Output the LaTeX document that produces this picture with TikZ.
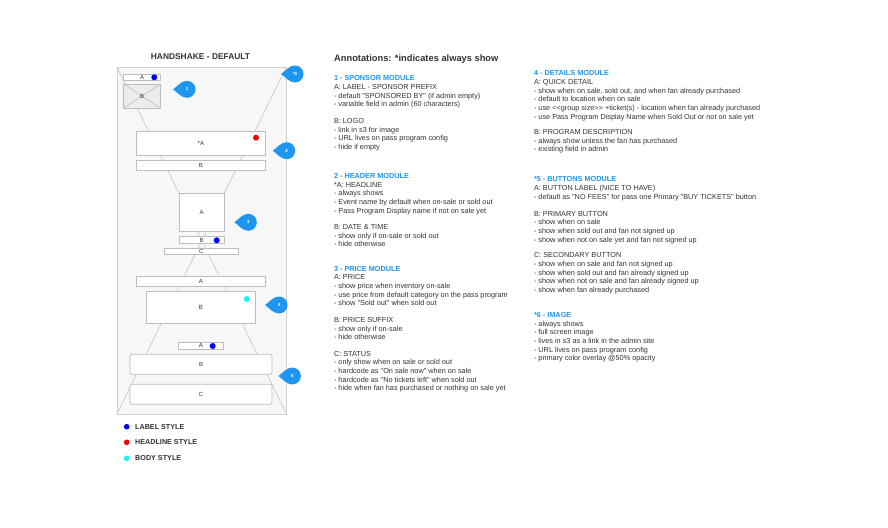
\documentclass[tikz,border=0pt]{standalone}
\usepackage{fontspec}
\newfontfamily\af{Liberation Sans}
\setmainfont{Liberation Sans}
\usetikzlibrary{calc}
\definecolor{panelfill}{HTML}{F7F7F7}
\definecolor{panelline}{HTML}{D2D2D2}
\definecolor{boxgray}{HTML}{BDBDBD}
\definecolor{linegray}{HTML}{C4C4C4}
\definecolor{logofill}{HTML}{ECECEC}
\definecolor{txtgray}{HTML}{333333}
\definecolor{hdblue}{HTML}{1E96F0}
\definecolor{cblue}{HTML}{1E96F0}
\definecolor{dotblue}{HTML}{0000F0}
\definecolor{dotred}{HTML}{F00000}
\definecolor{dotcyan}{HTML}{20F0F0}
\tikzset{
  panelbox/.style={draw=panelline, fill=panelfill, line width=0.8pt, inner sep=0pt, outer sep=0pt},
  wbox/.style={draw=boxgray, fill=white, line width=0.8pt, inner sep=0pt, outer sep=0pt, text=txtgray, font=\af\fontsize{6}{6}\selectfont},
  rbox/.style={wbox, rounded corners=2pt},
  logobox/.style={wbox, fill=logofill},
  persp/.style={draw=linegray, line width=0.6pt},
  dot/.style={circle, inner sep=0pt, minimum size=6pt},
  ldot/.style={circle, inner sep=0pt, minimum size=5.6pt},
  cnum/.style={inner sep=0pt, text=white, font=\af\bfseries\fontsize{4.5}{4.5}\selectfont},
  ann/.style={anchor=base west, align=left, inner sep=0pt, outer sep=0pt, text=txtgray, font=\af\fontsize{7.3}{8.65}\selectfont},
  legtxt/.style={anchor=west, inner sep=0pt, text=txtgray, font=\af\bfseries\fontsize{7.2}{8}\selectfont},
}
\newcommand\hd[1]{{\color{hdblue}\bfseries #1}}
\newcommand\callout[4]{%
  \fill[cblue, shift={(#2,#3)}] (-14,0) .. controls (-10,-2.5) and (-6,-8.5) .. (0,-8.5)
    arc[start angle=-90, end angle=90, radius=8.5] .. controls (-6,8.5) and (-10,2.5) .. (-14,0) -- cycle;
  \node[cnum] (#1) at (#2,#3) {#4};}
\begin{document}
\begin{tikzpicture}[x=1pt,y=-1pt]
\useasboundingbox (0,0) rectangle (888,527);
\fill[white] (0,0) rectangle (888,527);

% title
\node[inner sep=0pt, text=txtgray, font=\af\bfseries\fontsize{8.4}{9}\selectfont] (ttl) at (200.5,56.8) {HANDSHAKE - DEFAULT};

% panel
\node[panelbox, minimum width=169.5pt, minimum height=347pt] (panel) at (201.75,240.5) {};

% perspective lines
\coordinate (xl) at (176.7,291.7);
\coordinate (xr) at (226.7,291.7);
\coordinate (a3l) at (179,193.3);
\coordinate (a3r) at (224.3,193.3);
\coordinate (c3l) at (197.2,231);
\coordinate (c3r) at (206.6,231);
\draw[persp] (panel.north west) -- (a3l);
\draw[persp] (panel.north east) -- (a3r);
\draw[persp] (c3r) -- (xl);
\draw[persp] (c3l) -- (xr);
\draw[persp] (xl) -- (panel.south west);
\draw[persp] (xr) -- (panel.south east);

% module 1
\node[wbox, minimum width=37.4pt, minimum height=6pt] (b1a) at (142,77) {A};
\node[logobox, minimum width=37.4pt, minimum height=24.3pt] (b1b) at (142,96.2) {};
\draw[boxgray, line width=0.6pt] (b1b.north west) -- (b1b.south east) (b1b.north east) -- (b1b.south west);
\node[inner sep=0pt, text=txtgray, font=\af\fontsize{6}{6}\selectfont] (b1bl) at (b1b.center) {B};
% module 2
\node[wbox, minimum width=129.7pt, minimum height=24pt] (b2a) at (200.9,143) {*A};
\node[wbox, minimum width=129.7pt, minimum height=10pt] (b2b) at (200.9,165) {B};
% module 3
\node[wbox, minimum width=45.3pt, minimum height=37.7pt] (b3a) at (201.65,212.15) {A};
\node[wbox, minimum width=45pt, minimum height=6.6pt] (b3b) at (201.5,240) {B};
\node[wbox, minimum width=74pt, minimum height=6pt] (b3c) at (201.3,251.3) {C};
% module 4
\node[wbox, minimum width=129.7pt, minimum height=9.3pt] (b4a) at (200.9,281.3) {A};
\node[wbox, minimum width=108.3pt, minimum height=31.6pt] (b4b) at (200.9,307.5) {B};
% module 5
\node[wbox, minimum width=45pt, minimum height=6.7pt] (b5a) at (200.8,345.7) {A};
\node[rbox, minimum width=142pt, minimum height=20pt] (b5b) at (201,364.3) {B};
\node[rbox, minimum width=142pt, minimum height=20pt] (b5c) at (201,394.3) {C};

% style dots
\node[dot, fill=dotblue] (d1) at (154.3,77.3) {};
\node[dot, fill=dotred] (d2) at (256,137.7) {};
\node[dot, fill=dotblue] (d3) at (216.7,240.3) {};
\node[dot, fill=dotcyan] (d4) at (246.7,299) {};
\node[dot, fill=dotblue] (d5) at (212.7,346) {};

% callouts
\callout{k1}{187}{89.3}{1}
\callout{k6}{295}{74}{*6}
\callout{k2}{286.7}{150.7}{2}
\callout{k3}{248.3}{222.3}{3}
\callout{k4}{279}{305}{4}
\callout{k5}{292.3}{376}{5}

% legend
\node[ldot, fill=dotblue] (l1) at (126.7,426.7) {};
\node[ldot, fill=dotred] (l2) at (126.7,442.3) {};
\node[ldot, fill=dotcyan] (l3) at (126.7,458.3) {};
\node[legtxt] (lt1) at (135,426.7) {LABEL STYLE};
\node[legtxt] (lt2) at (135,442.3) {HEADLINE STYLE};
\node[legtxt] (lt3) at (135,458.3) {BODY STYLE};

% annotations (positions are the baseline of each block's last line)
\node[anchor=base west, inner sep=0pt, text=txtgray, font=\af\bfseries\fontsize{9.3}{10}\selectfont] (atitle) at (334,61) {Annotations: *indicates always show};

\node[ann] (t1) at (334,106.85) {\hd{1 - SPONSOR MODULE}\\A: LABEL - SPONSOR PREFIX\\- default "SPONSORED BY" (if admin empty)\\- variable field in admin (60 characters)};
\node[ann] (t1b) at (334,149.55) {B: LOGO\\- link in s3 for image\\- URL lives on pass program config\\- hide if empty};
\node[ann] (t2) at (334,213.2) {\hd{2 - HEADER MODULE}\\*A: HEADLINE\\- always shows\\- Event name by default when on-sale or sold out\\- Pass Program Display name if not on sale yet};
\node[ann] (t2b) at (334,246.9) {B: DATE \& TIME\\- show only if on-sale or sold out\\- hide otherwise};
\node[ann] (t3) at (334,305.7) {\hd{3 - PRICE MODULE}\\A: PRICE\\- show price when inventory on-sale\\- use price from default category on the pass program\\- show "Sold out" when sold out};
\node[ann] (t3b) at (334,339.9) {B: PRICE SUFFIX\\- show only if on-sale\\- hide otherwise};
\node[ann] (t3c) at (334,390.9) {C: STATUS\\- only show when on sale or sold out\\- hardcode as "On sale now" when on sale\\- hardcode as "No tickets left" when sold out\\- hide when fan has purchased or nothing on sale yet};

\node[ann] (t4) at (534,119.15) {\hd{4 - DETAILS MODULE}\\A: QUICK DETAIL\\- show when on sale, sold out, and when fan already purchased\\- default to location when on sale\\- use <<group size>> +ticket(s) - location when fan already purchased\\- use Pass Program Display Name when Sold Out or not on sale yet};
\node[ann] (t4b) at (534,151.9) {B: PROGRAM DESCRIPTION\\- always show unless the fan has purchased\\- existing field in admin};
\node[ann] (t5) at (534,199.2) {\hd{*5 - BUTTONS MODULE}\\A: BUTTON LABEL (NICE TO HAVE)\\- default as "NO FEES" for pass one Primary "BUY TICKETS" button};
\node[ann] (t5b) at (534,242.25) {B: PRIMARY BUTTON\\- show when on sale\\- show when sold out and fan not signed up\\- show when not on sale yet and fan not signed up};
\node[ann] (t5c) at (534,292.5) {C: SECONDARY BUTTON\\- show when on sale and fan not signed up\\- show when sold out and fan already signed up\\- show when not on sale and fan already signed up\\- show when fan already purchased};
\node[ann] (t6) at (534,360.85) {\hd{*6 - IMAGE}\\- always shows\\- full screen image\\- lives in s3 as a link in the admin site\\- URL lives on pass program config\\- primary color overlay @50\% opacity};
\end{tikzpicture}
\end{document}
